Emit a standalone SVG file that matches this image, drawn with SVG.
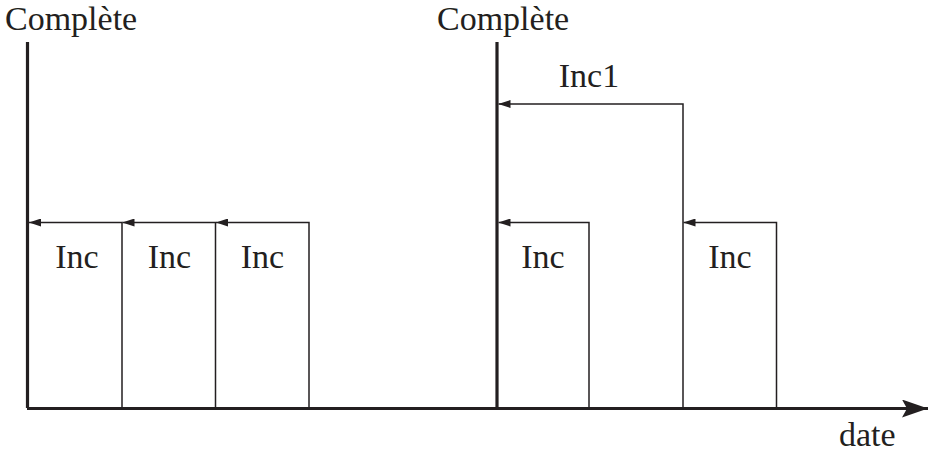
<svg xmlns="http://www.w3.org/2000/svg" width="929" height="454" viewBox="0 0 929 454">
<style>
text{font-family:"Liberation Serif","Times New Roman",serif;font-size:34px;fill:#231f20}
.thin{stroke:#231f20;stroke-width:1.5;fill:none}
.thick{stroke:#231f20;stroke-width:3.2;fill:none}
</style>
<defs>
<marker id="ah" viewBox="0 0 12 8" refX="12" refY="4" markerWidth="12" markerHeight="8" markerUnits="userSpaceOnUse" orient="auto">
<path d="M0,0 L12,4 L0,8 Z" fill="#231f20"/>
</marker>
<marker id="big" viewBox="0 0 26 18" refX="26" refY="9" markerWidth="26" markerHeight="18" markerUnits="userSpaceOnUse" orient="auto">
<path d="M0,0 L26,9 L0,18 L5,9 Z" fill="#231f20"/>
</marker>
</defs>
<g id="axis">
<line class="thick" x1="27" y1="408.5" x2="928" y2="408.5" marker-end="url(#big)"/>
<text x="839" y="446">date</text>
</g>
<g id="complete1">
<line class="thick" x1="27.5" y1="42" x2="27.5" y2="408"/>
<text x="5" y="30">Complète</text>
</g>
<g id="complete2">
<line class="thick" x1="497" y1="42" x2="497" y2="408"/>
<text x="437" y="30">Complète</text>
</g>
<g id="inc-a"><text x="77" y="268" text-anchor="middle">Inc</text></g>
<g id="inc-b"><text x="169.5" y="268" text-anchor="middle">Inc</text></g>
<g id="inc-c"><text x="262.5" y="268" text-anchor="middle">Inc</text></g>
<g id="inc-d"><text x="543" y="268" text-anchor="middle">Inc</text></g>
<g id="inc-e"><text x="730" y="268" text-anchor="middle">Inc</text></g>
<g id="inc1"><text x="589" y="87" text-anchor="middle">Inc1</text></g>
<g id="connectors">
<polyline class="thin" points="122,408 122,222.5 29,222.5" marker-end="url(#ah)"/>
<polyline class="thin" points="215.5,408 215.5,222.5 122.5,222.5" marker-end="url(#ah)"/>
<polyline class="thin" points="309,408 309,222.5 216,222.5" marker-end="url(#ah)"/>
<polyline class="thin" points="589,408 589,222.5 498.5,222.5" marker-end="url(#ah)"/>
<polyline class="thin" points="683,408 683,104 498.5,104" marker-end="url(#ah)"/>
<polyline class="thin" points="776.5,408 776.5,222.5 683.5,222.5" marker-end="url(#ah)"/>
</g>
</svg>
